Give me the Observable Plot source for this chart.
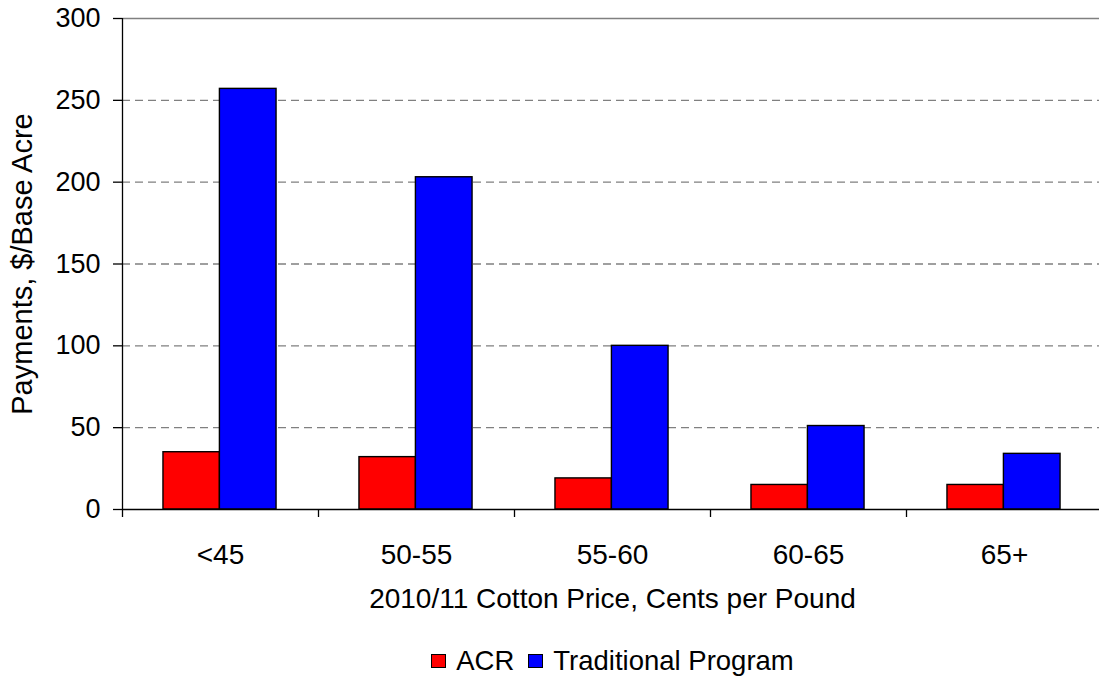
<!DOCTYPE html>
<html>
<head>
<meta charset="utf-8">
<script src="https://cdn.jsdelivr.net/npm/d3@7"></script>
<script src="https://cdn.jsdelivr.net/npm/@observablehq/plot@0.6"></script>
<style>
  html, body { margin: 0; padding: 0; background: #fff; }
  body { position: relative; width: 1099px; height: 679px; overflow: hidden; font-family: "Liberation Sans", Arial, sans-serif; }
  #legend { position: absolute; left: 0; top: 647px; width: 1099px; box-sizing: border-box; padding-left: 126px;
            display: flex; justify-content: center; align-items: center; height: 27px; line-height: 27px; font-size: 27.5px; color: #000; }
  #legend .item { display: flex; align-items: center; margin: 0 7px; }
  #legend .sw { width: 15px; height: 14px; border: 1px solid #000; margin-right: 10px; box-sizing: border-box; }
</style>
</head>
<body>
<div id="chart"></div>
<div id="legend"></div>
<script>
const categories = ["<45", "50-55", "55-60", "60-65", "65+"];
const acr = [35, 32, 19, 15, 15];
const traditional = [257, 203, 100, 51, 34];
const series = ["ACR", "Traditional Program"];
const colors = ["#ff0000", "#0000ff"];
const yTicks = [0, 50, 100, 150, 200, 250, 300];
const gridTicks = [50, 100, 150, 200, 250];

const rows = [];
categories.forEach((c, i) => {
  rows.push({category: c, series: series[0], value: acr[i]});
  rows.push({category: c, series: series[1], value: traditional[i]});
});

const width = 1099, height = 630;
const marginLeft = 122, marginRight = -3, marginTop = 18, marginBottom = 121;
const band = (width - marginLeft - marginRight) / categories.length;

const chart = Plot.plot({
  width, height, marginLeft, marginRight, marginTop, marginBottom,
  style: {fontFamily: "'Liberation Sans', Arial, sans-serif", fontSize: "28px", color: "#000", background: "#fff"},
  x: {type: "band", domain: categories, padding: 0},
  y: {domain: [0, 300]},
  marks: [
    Plot.ruleY(gridTicks, {stroke: "#808080", strokeWidth: 1.3, strokeDasharray: "8,5"}),
    Plot.ruleY([300], {stroke: "#808080", strokeWidth: 1.3}),
    Plot.barY(rows.filter(d => d.series === series[0]), {
      x: "category", y: "value", fill: colors[0], stroke: "#000", strokeWidth: 1.4,
      insetLeft: band * 0.209, insetRight: band * (1 - 0.497)
    }),
    Plot.barY(rows.filter(d => d.series === series[1]), {
      x: "category", y: "value", fill: colors[1], stroke: "#000", strokeWidth: 1.4,
      insetLeft: band * 0.497, insetRight: band * (1 - 0.786)
    }),
    Plot.ruleY([0], {stroke: "#000", strokeWidth: 1.3}),
    Plot.ruleX([categories[0]], {dx: -band / 2, stroke: "#000", strokeWidth: 1.3}),
    Plot.axisX({tickSize: 8, dx: -band / 2, text: null, label: null, stroke: "#000", strokeWidth: 1.3}),
    Plot.axisX({tickSize: 0, tickPadding: 35, fontSize: 28, label: "2010/11 Cotton Price, Cents per Pound",
      labelAnchor: "center", labelArrow: "none", labelOffset: 98}),
    Plot.axisY({ticks: yTicks, tickSize: 9, tickPadding: 13, fontSize: 27, stroke: "#000", strokeWidth: 1.3, label: null}),
    Plot.axisY({ticks: [], tickSize: 0, fontSize: 29,
      label: "Payments, $/Base Acre", labelAnchor: "center", labelArrow: "none", labelOffset: 111})
  ]
});
document.getElementById("chart").appendChild(chart);

const legend = document.getElementById("legend");
series.forEach((s, i) => {
  const item = document.createElement("div");
  item.className = "item";
  const sw = document.createElement("div");
  sw.className = "sw";
  sw.style.background = colors[i];
  const t = document.createElement("span");
  t.textContent = s;
  item.appendChild(sw);
  item.appendChild(t);
  legend.appendChild(item);
});
</script>
</body>
</html>
